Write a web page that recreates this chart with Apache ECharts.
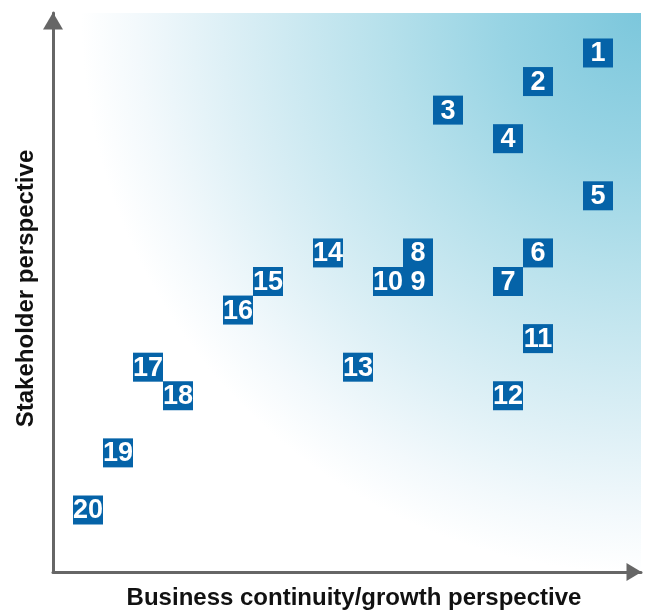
<!DOCTYPE html>
<html>
<head>
<meta charset="utf-8">
<script src="https://cdn.jsdelivr.net/npm/echarts@6/dist/echarts.min.js"></script>
<style>
html,body{margin:0;padding:0;background:#fff;}
#chart{width:646px;height:611px;}
</style>
</head>
<body>
<div id="chart"></div>
<script>
// Item numbers, business continuity/growth score (x), stakeholder score (y)
const ids = ['1','2','3','4','5','6','7','8','9','10','11','12','13','14','15','16','17','18','19','20'];
const growth = [17,15,12,14,17,15,14,11,11,10,15,14,9,8,6,5,2,3,1,0];
const stakeholder = [16,15,14,13,11,9,8,9,8,8,6,4,5,9,8,7,5,4,2,0];
const xTitle = 'Business continuity/growth perspective';
const yTitle = 'Stakeholder perspective';

const data = ids.map((id, i) => ({ value: [growth[i], stakeholder[i]], name: id }));

const chart = echarts.init(document.getElementById('chart'), null, { renderer: 'canvas' });
const font = '"Liberation Sans", Arial, Helvetica, sans-serif';
const narrow = '"Liberation Sans Narrow", "Arial Narrow", "Liberation Sans", Arial, sans-serif';
chart.setOption({
  animation: false,
  grid: {
    left: 53, top: 13, right: 5, bottom: 39,
    outerBoundsMode: 'none',
    containLabel: false,
    show: true, borderWidth: 0,
    backgroundColor: {
      type: 'radial', x: 641, y: 13, r: 560, global: true,
      colorStops: [
        { offset: 0, color: '#7cc7dc' },
        { offset: 0.25, color: '#98d4e4' },
        { offset: 0.45, color: '#b5e0eb' },
        { offset: 0.75, color: '#def0f6' },
        { offset: 0.9, color: '#f3f9fc' },
        { offset: 1, color: '#ffffff' }
      ]
    }
  },
  xAxis: {
    type: 'value', min: -1.1667, max: 18.4333,
    axisLine: { show: true, onZero: false, symbol: ['none', 'triangle'], symbolSize: [18, 15], symbolOffset: [0, -7], lineStyle: { color: '#666666', width: 3 } },
    axisTick: { show: false }, axisLabel: { show: false }, splitLine: { show: false },
    name: xTitle, nameLocation: 'middle', nameGap: 14,
    nameTextStyle: { fontFamily: font, fontWeight: 'bold', fontSize: 24, color: '#111', padding: [0, 0, 0, 14] }
  },
  yAxis: {
    type: 'value', min: -2.1707, max: 17.4,
    axisLine: { show: true, onZero: false, symbol: ['none', 'triangle'], symbolSize: [20, 17], symbolOffset: [0, -8], lineStyle: { color: '#666666', width: 3 } },
    axisTick: { show: false }, axisLabel: { show: false }, splitLine: { show: false },
    name: yTitle, nameLocation: 'middle', nameGap: 15, nameRotate: 90,
    nameTextStyle: { fontFamily: font, fontWeight: 'bold', fontSize: 24, color: '#111', padding: [0, 0, 0, 8] }
  },
  series: [{
    type: 'scatter',
    symbol: 'rect',
    symbolSize: [30, 29],
    itemStyle: { color: '#0563a8', opacity: 1 },
    label: {
      show: true, position: 'inside', formatter: p => p.name, offset: [0, 1],
      color: '#ffffff', fontFamily: narrow, fontWeight: 'bold', fontSize: 27
    },
    data: data
  }]
});
</script>
</body>
</html>
